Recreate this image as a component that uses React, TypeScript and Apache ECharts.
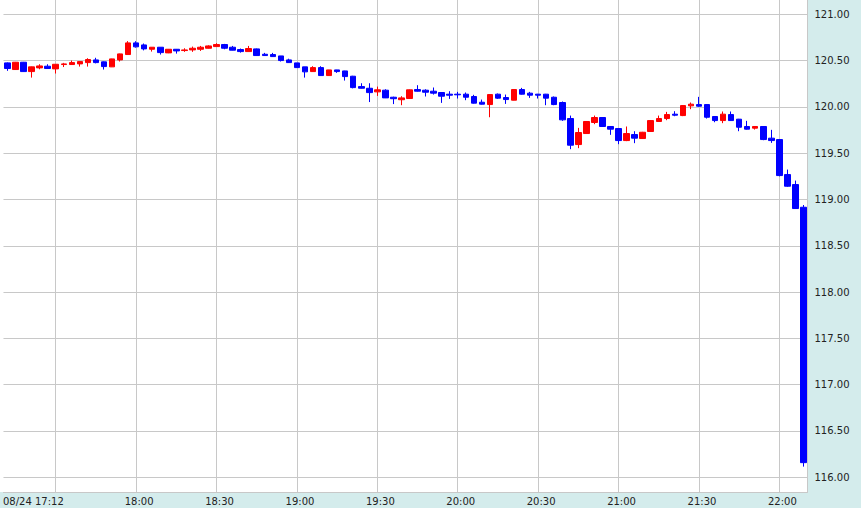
import React, { useEffect, useRef } from "react";
import * as echarts from "echarts";

// 3-minute candles, 08/24 17:12 – 22:09
const dateLabel = "08/24";
const startMinutes = 17 * 60 + 12;
const stepMinutes = 3;

const opens = [
  120.475, 120.403, 120.482, 120.381, 120.421, 120.439, 120.41, 120.457, 120.457, 120.464,
  120.478, 120.507, 120.486, 120.432, 120.507, 120.565, 120.691, 120.669, 120.622, 120.644,
  120.583, 120.622, 120.608, 120.615, 120.622, 120.633, 120.651, 120.673, 120.644, 120.619,
  120.597, 120.626, 120.568, 120.565, 120.55, 120.507, 120.475, 120.432, 120.381, 120.424,
  120.338, 120.399, 120.388, 120.331, 120.219, 120.201, 120.162, 120.18, 120.104, 120.077,
  120.09, 120.187, 120.18, 120.169, 120.155, 120.137, 120.137, 120.137, 120.112, 120.05,
  120.025, 120.137, 120.101, 120.072, 120.187, 120.148, 120.137, 120.137, 120.104, 120.047,
  119.874, 119.593, 119.712, 119.831, 119.885, 119.788, 119.766, 119.636, 119.701, 119.658,
  119.734, 119.842, 119.874, 119.921, 119.906, 120.011, 120.025, 120.025, 119.896, 119.852,
  119.917, 119.867, 119.788, 119.77, 119.788, 119.662, 119.647, 119.269, 119.161, 118.916,
];
const highs = [
  120.48, 120.485, 120.485, 120.435, 120.46, 120.46, 120.46, 120.475, 120.5, 120.49,
  120.525, 120.53, 120.49, 120.52, 120.575, 120.71, 120.709, 120.684, 120.645, 120.645,
  120.625, 120.625, 120.633, 120.651, 120.658, 120.665, 120.687, 120.68, 120.658, 120.63,
  120.658, 120.63, 120.583, 120.583, 120.55, 120.52, 120.475, 120.432, 120.439, 120.439,
  120.4, 120.4, 120.39, 120.335, 120.255, 120.255, 120.219, 120.19, 120.11, 120.115,
  120.187, 120.234, 120.19, 120.209, 120.16, 120.169, 120.162, 120.155, 120.13, 120.079,
  120.135, 120.144, 120.133, 120.19, 120.205, 120.162, 120.14, 120.14, 120.112, 120.058,
  119.906, 119.773, 119.845, 119.906, 119.89, 119.79, 119.77, 119.788, 119.737, 119.73,
  119.855, 119.906, 119.946, 119.953, 120.02, 120.047, 120.108, 120.03, 119.9, 119.95,
  119.95, 119.87, 119.849, 119.79, 119.79, 119.752, 119.65, 119.323, 119.204, 118.94,
];
const lows = [
  120.389, 120.4, 120.378, 120.316, 120.406, 120.41, 120.36, 120.43, 120.455, 120.435,
  120.435, 120.47, 120.403, 120.43, 120.49, 120.56, 120.64, 120.61, 120.597, 120.565,
  120.58, 120.575, 120.594, 120.594, 120.604, 120.63, 120.65, 120.622, 120.61, 120.586,
  120.595, 120.55, 120.55, 120.54, 120.49, 120.475, 120.42, 120.316, 120.378, 120.335,
  120.335, 120.367, 120.284, 120.2, 120.198, 120.052, 120.118, 120.095, 120.03, 120.018,
  120.088, 120.165, 120.112, 120.133, 120.043, 120.086, 120.09, 120.072, 120.036, 120.025,
  119.888, 120.086, 120.032, 120.07, 120.133, 120.097, 120.09, 120.018, 120.018, 119.849,
  119.543, 119.554, 119.71, 119.813, 119.785, 119.698, 119.597, 119.63, 119.608, 119.655,
  119.73, 119.84, 119.856, 119.899, 119.9, 119.975, 120.0, 119.874, 119.834, 119.824,
  119.85, 119.737, 119.755, 119.755, 119.64, 119.611, 119.25, 119.136, 118.9, 116.115,
];
const closes = [
  120.414, 120.482, 120.381, 120.432, 120.442, 120.414, 120.46, 120.464, 120.478, 120.489,
  120.511, 120.478, 120.435, 120.518, 120.572, 120.691, 120.648, 120.626, 120.644, 120.586,
  120.622, 120.604, 120.615, 120.633, 120.644, 120.658, 120.673, 120.633, 120.612, 120.597,
  120.63, 120.554, 120.554, 120.543, 120.5, 120.478, 120.424, 120.378, 120.424, 120.338,
  120.399, 120.381, 120.327, 120.208, 120.201, 120.154, 120.184, 120.097, 120.088, 120.097,
  120.184, 120.169, 120.158, 120.148, 120.115, 120.126, 120.13, 120.104, 120.04, 120.029,
  120.133, 120.094, 120.079, 120.187, 120.137, 120.126, 120.126, 120.094, 120.025, 119.86,
  119.586, 119.723, 119.842, 119.885, 119.788, 119.759, 119.636, 119.712, 119.662, 119.726,
  119.852, 119.874, 119.917, 119.91, 120.014, 120.029, 120.007, 119.888, 119.852, 119.921,
  119.852, 119.78, 119.759, 119.788, 119.647, 119.636, 119.258, 119.143, 118.902, 116.158,
];

const pad = (n: number) => (n < 10 ? "0" + n : "" + n);
const categories: string[] = opens.map((_, i) => {
  const m = startMinutes + i * stepMinutes;
  return pad(Math.floor(m / 60)) + ":" + pad(m % 60);
});

const gridTimes = ["17:30", "18:00", "18:30", "19:00", "19:30", "20:00", "20:30", "21:00", "21:30", "22:00"];
const timeLabels = ["18:00", "18:30", "19:00", "19:30", "20:00", "20:30", "21:00", "21:30", "22:00"];

const yMin = 115.841;
const yMax = 121.154;

const GRID = "#c8c8c8";
const BAND = "#d4ecec";
const TEXT = "#222222";
const FONT = "'DejaVu Sans', Verdana, sans-serif";

export default function App() {
  const ref = useRef<HTMLDivElement>(null);
  useEffect(() => {
    if (!ref.current) return;
    const chart = echarts.init(ref.current, null, { renderer: "svg" });
    const candleData = opens.map((o, i) => [o, closes[i], lows[i], highs[i]]);
    chart.setOption({
      animation: false,
      backgroundColor: "#ffffff",
      graphic: [
        { type: "rect", left: 807.5, top: 0, shape: { width: 54, height: 508 }, style: { fill: BAND }, z: -1, silent: true },
        { type: "rect", left: 0, top: 492, shape: { width: 861, height: 16 }, style: { fill: BAND }, z: -1, silent: true },
      ],
      grid: { left: 1.5, right: 53.5, top: 0, bottom: 16, containLabel: false },
      xAxis: [
        {
          type: "category",
          data: categories,
          boundaryGap: true,
          axisLine: { show: true, lineStyle: { color: GRID, width: 1 } },
          axisTick: { show: false },
          splitLine: { show: false },
          axisLabel: {
            interval: (idx: number, val: string) => timeLabels.includes(val),
            color: TEXT,
            fontFamily: FONT,
            fontSize: 10,
            margin: 4,
            padding: [0, 0, 0, 6],
          },
        },
        {
          type: "category",
          data: categories,
          boundaryGap: true,
          position: "bottom",
          axisLine: { show: false },
          axisTick: { show: false },
          splitLine: { show: false },
          axisLabel: {
            interval: (idx: number) => idx === 0,
            formatter: (v: string) => "{a|" + dateLabel + " " + v + "}",
            align: "center",
            margin: 4,
            rich: {
              a: {
                width: 9,
                align: "left",
                color: TEXT,
                fontFamily: FONT,
                fontSize: 10,
              },
            },
          },
        },
      ],
      yAxis: {
        type: "value",
        position: "right",
        min: yMin,
        max: yMax,
        splitNumber: 10,
        scale: true,
        axisLine: { show: true, lineStyle: { color: GRID, width: 1 } },
        axisTick: { show: false },
        splitLine: { show: true, showMinLine: false, showMaxLine: false, lineStyle: { color: GRID, width: 1 } },
        axisLabel: {
          color: TEXT,
          fontFamily: FONT,
          fontSize: 10,
          margin: 7,
          showMinLabel: false,
          showMaxLabel: false,
          formatter: (v: number) => (Math.abs(v * 2 - Math.round(v * 2)) < 1e-6 ? v.toFixed(2) : ""),
        },
      },
      series: [
        {
          type: "candlestick",
          xAxisIndex: 0,
          yAxisIndex: 0,
          data: candleData,
          barWidth: 6,
          z: 2,
          itemStyle: {
            color: "#ff0000",
            color0: "#0000ff",
            borderColor: "#ff0000",
            borderColor0: "#0000ff",
            borderWidth: 1,
          },
          markLine: {
            silent: true,
            z: 1,
            symbol: ["none", "none"],
            label: { show: false },
            lineStyle: { color: GRID, width: 1, type: "solid" },
            data: gridTimes.map((t) => ({ xAxis: t })),
          },
        },
      ],
    });
    return () => chart.dispose();
  }, []);
  return (
    <div
      ref={ref}
      style={{ position: "absolute", left: 0, top: 0, width: 861, height: 508 }}
    />
  );
}
